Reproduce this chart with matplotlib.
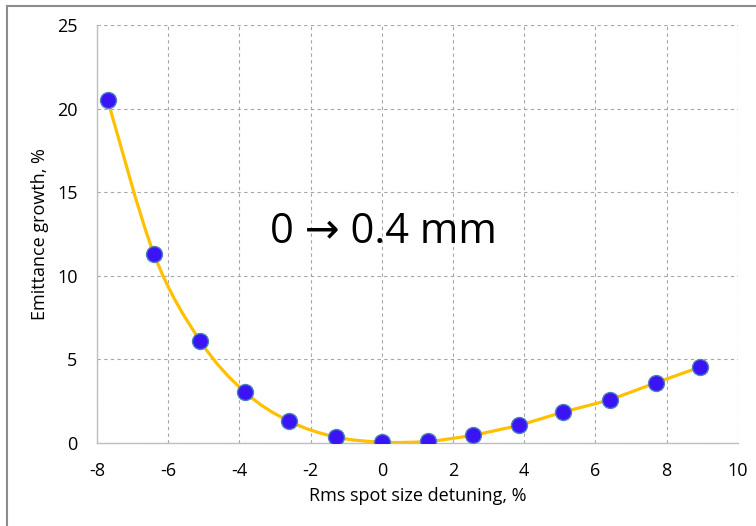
import numpy as np
import matplotlib
matplotlib.use("Agg")
import matplotlib.pyplot as plt
from matplotlib.path import Path
from matplotlib.patches import PathPatch
from matplotlib.lines import Line2D

plt.rcParams['font.family'] = ['Open Sans', 'DejaVu Sans']
plt.rcParams['axes.unicode_minus'] = False

# spot size detuning (%) vs emittance growth (%)
detuning = [-7.7, -6.4, -5.1, -3.85, -2.6, -1.3, 0.0, 1.3, 2.55, 3.85, 5.1, 6.4, 7.7, 8.95]
growth = [20.5, 11.3, 6.1, 3.05, 1.3, 0.36, 0.05, 0.1, 0.47, 1.07, 1.85, 2.6, 3.6, 4.55]
xticks = [-8, -6, -4, -2, 0, 2, 4, 6, 8, 10]
yticks = [0, 5, 10, 15, 20, 25]


def smooth_path(x, y):
    # bezier through every point, control points from neighbour slopes
    pts = np.column_stack([x, y])
    n = len(pts)
    verts = [pts[0]]
    codes = [Path.MOVETO]
    for i in range(n - 1):
        p0 = pts[max(i - 1, 0)]
        p1 = pts[i]
        p2 = pts[i + 1]
        p3 = pts[min(i + 2, n - 1)]
        c1 = p1 + (p2 - p0) / 6.0
        c2 = p2 - (p3 - p1) / 6.0
        verts += [c1, c2, p2]
        codes += [Path.CURVE4] * 3
    return Path(verts, codes)


fig = plt.figure(figsize=(7.56, 5.26), dpi=100)
ax = fig.add_axes([0.1283, 0.1578, 0.8477, 0.7947])

ax.add_patch(PathPatch(smooth_path(detuning, growth), facecolor='none',
                       edgecolor='#FFC000', lw=2.3, zorder=2))
ax.plot(detuning, growth, ls='none', marker='o', ms=11.5,
        mfc='#3A14F5', mec='#4F81BD', mew=1.0, zorder=3)

ax.set_xlim(-8, 10)
ax.set_ylim(0, 25)
ax.set_xticks(xticks)
ax.set_yticks(yticks)
ax.grid(True, ls=(0, (3, 3)), color='#A6A6A6', lw=0.8)
ax.set_axisbelow(True)
for s in ['top', 'right']:
    ax.spines[s].set_visible(False)
for s in ['left', 'bottom']:
    ax.spines[s].set_color('#BFBFBF')
    ax.spines[s].set_linewidth(1.0)
ax.tick_params(length=0, labelsize=13, colors='black')
ax.tick_params(axis='x', pad=14)
ax.tick_params(axis='y', pad=14)

ax.set_xlabel('Rms spot size detuning, %', fontsize=13, labelpad=5)
ax.set_ylabel('Emittance growth, %', fontsize=13, labelpad=6)

ax.text(-3.15, 12.6, '0 \u2192 0.4 mm', fontsize=30, ha='left', va='center')

# frame edges along the top and left of the figure
fig.lines.append(Line2D([0.0093, 1.0], [0.9886, 0.9886], transform=fig.transFigure,
                        color='#8C8C8C', lw=1.5))
fig.lines.append(Line2D([0.0093, 0.0093], [0.0, 0.9886], transform=fig.transFigure,
                        color='#8C8C8C', lw=1.5))

fig.savefig('out.png', dpi=100)
